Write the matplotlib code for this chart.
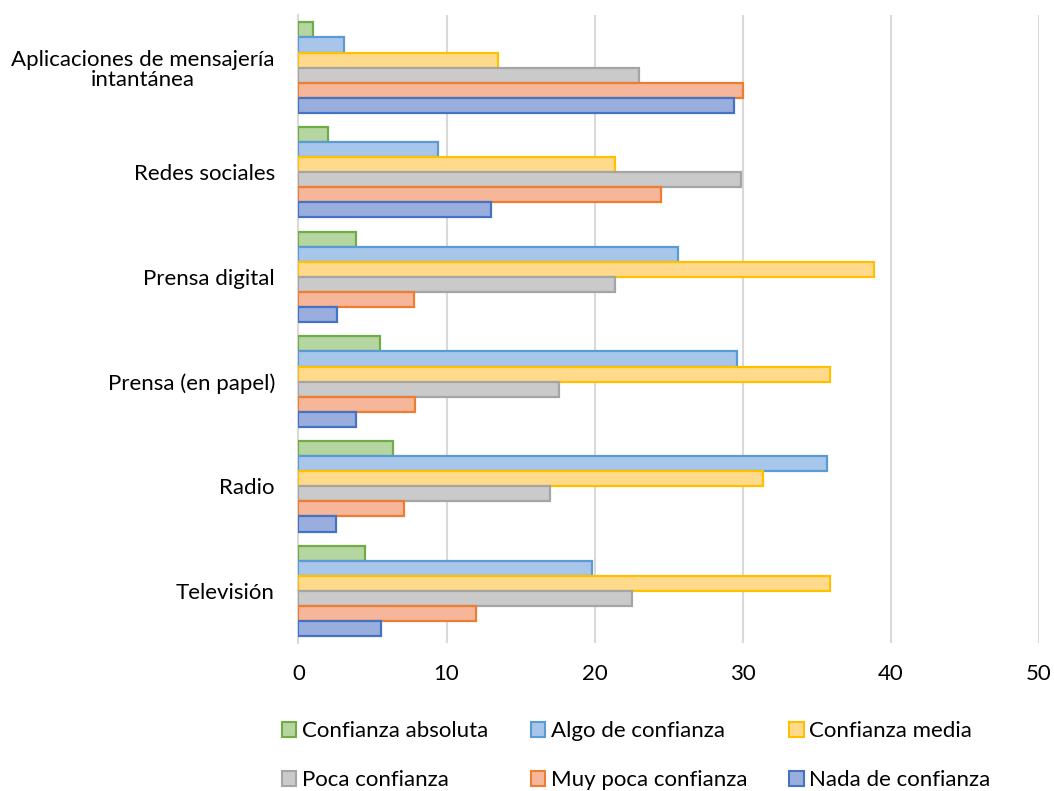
import numpy as np
import matplotlib
matplotlib.use("Agg")
import matplotlib.pyplot as plt
from matplotlib.patches import Patch

plt.rcParams['font.family'] = ['Lato', 'DejaVu Sans']

# medios (de arriba a abajo)
medios = ["Aplicaciones de mensajería\nintantánea", "Redes sociales", "Prensa digital",
          "Prensa (en papel)", "Radio", "Televisión"]

series = ["Confianza absoluta", "Algo de confianza", "Confianza media",
          "Poca confianza", "Muy poca confianza", "Nada de confianza"]

confianza_absoluta = [1.0, 2.0, 3.9, 5.5, 6.4, 4.5]
algo_confianza     = [3.1, 9.4, 25.6, 29.6, 35.7, 19.8]
confianza_media    = [13.5, 21.4, 38.9, 35.9, 31.4, 35.9]
poca_confianza     = [23.0, 29.9, 21.4, 17.6, 17.0, 22.5]
muy_poca_confianza = [30.0, 24.5, 7.8, 7.9, 7.1, 12.0]
nada_confianza     = [29.4, 13.0, 2.6, 3.9, 2.5, 5.6]

valores = [confianza_absoluta, algo_confianza, confianza_media,
           poca_confianza, muy_poca_confianza, nada_confianza]

rellenos = ["#b5d5a1", "#a8c5ea", "#ffd98c", "#cacaca", "#f5b69a", "#9aaede"]
bordes   = ["#70ad47", "#5b9bd5", "#ffc000", "#a5a5a5", "#ed7d31", "#4472c4"]

FS = 16

fig = plt.figure(figsize=(10.54, 7.91), dpi=100)
ax = fig.add_axes([0.2832, 0.1867, 0.7024, 0.794])

y = np.arange(len(medios))
h = 0.864 / len(series)
for j, vals in enumerate(valores):
    ax.barh(y + (j - 2.5) * h, vals, height=h, color=rellenos[j],
            edgecolor=bordes[j], linewidth=1.6, zorder=3)

ax.set_xlim(0, 50)
ax.set_ylim(len(medios) - 0.5, -0.5)
ax.set_xticks(range(0, 51, 10))
ax.set_yticks(y)
ax.set_yticklabels(medios, multialignment='center', linespacing=1.05)
ax.tick_params(axis='both', length=0, labelsize=FS, colors='black')
ax.tick_params(axis='x', pad=15)
ax.tick_params(axis='y', pad=17)
ax.grid(axis='x', color='#d9d9d9', linewidth=1.5, zorder=0)
for s in ['top', 'right', 'bottom']:
    ax.spines[s].set_visible(False)
ax.spines['left'].set_color('#d9d9d9')
ax.spines['left'].set_linewidth(1.5)

handles = [Patch(facecolor=rellenos[j], edgecolor=bordes[j], linewidth=1.5, label=series[j])
           for j in range(len(series))]
orden = [0, 3, 1, 4, 2, 5]
fig.legend([handles[i] for i in orden], [series[i] for i in orden],
           loc='upper left', bbox_to_anchor=(0.2676, 0.088), ncol=3, frameon=False,
           fontsize=FS, handlelength=0.65, handleheight=0.65, handletextpad=0.25,
           columnspacing=1.9, labelspacing=1.3, borderaxespad=0, borderpad=0)

fig.savefig("out.png", dpi=100)
